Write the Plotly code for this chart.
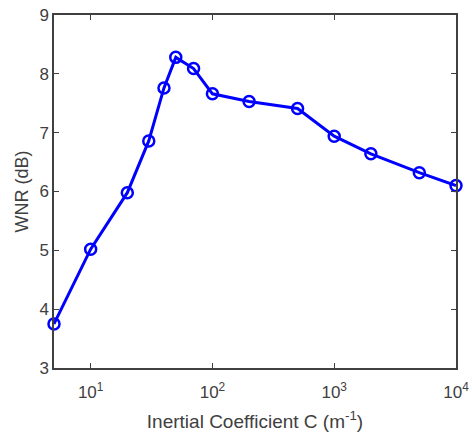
import plotly.graph_objects as go

# Data
C_values = [5, 10, 20, 30, 40, 50, 70, 100, 200, 500, 1000, 2000, 5000, 10000]
wnr_db = [3.75, 5.02, 5.98, 6.86, 7.76, 8.28, 8.09, 7.66, 7.53, 7.41, 6.94, 6.64, 6.32, 6.10]
x_tickvals = [10, 100, 1000, 10000]
x_ticktext = ["10<sup>1</sup>", "10<sup>2</sup>", "10<sup>3</sup>", "10<sup>4</sup>"]
y_tickvals = [3, 4, 5, 6, 7, 8, 9]

axis_color = "#404040"
font_family = "Liberation Sans, Arial, sans-serif"

fig = go.Figure()
fig.add_trace(go.Scatter(
    x=C_values, y=wnr_db,
    mode="lines+markers",
    line=dict(color="#0000FF", width=3),
    marker=dict(symbol="circle-open", size=11, color="#0000FF",
                line=dict(width=2.5, color="#0000FF")),
    showlegend=False,
    cliponaxis=False,
))

fig.update_layout(
    width=472, height=439,
    margin=dict(l=54, r=16, t=15, b=71),
    paper_bgcolor="white", plot_bgcolor="white",
    font=dict(family=font_family, size=17, color=axis_color),
)
fig.update_xaxes(
    type="log", range=[0.69897, 4],
    tickvals=x_tickvals, ticktext=x_ticktext,
    ticks="inside", ticklen=5, tickcolor=axis_color, tickwidth=1,
    showline=True, linecolor=axis_color, linewidth=1.5, mirror="ticks",
    showgrid=False, zeroline=False, automargin=False,
    ticklabelstandoff=8,
    title=dict(text="Inertial Coefficient C (m<sup>-1</sup>)", standoff=14,
               font=dict(size=19, color=axis_color)),
    tickfont=dict(size=17, color=axis_color),
)
fig.update_yaxes(
    range=[3, 9], tickvals=y_tickvals,
    ticks="inside", ticklen=5, tickcolor=axis_color, tickwidth=1,
    showline=True, linecolor=axis_color, linewidth=1.5, mirror="ticks",
    showgrid=False, zeroline=False, automargin=False,
    title=dict(text="WNR (dB)", standoff=6, font=dict(size=18, color=axis_color)),
    tickfont=dict(size=17, color=axis_color),
)

fig.write_html("out.html")
